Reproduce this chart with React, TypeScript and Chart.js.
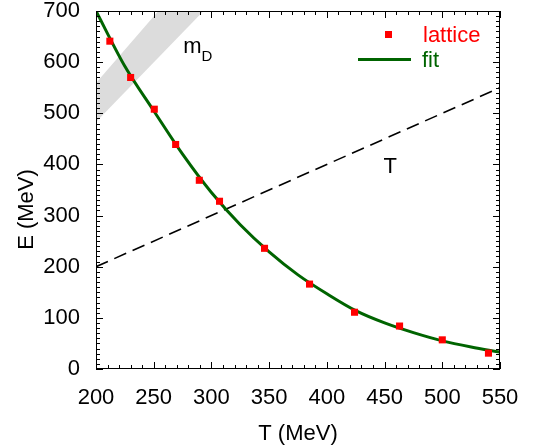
import React, { useEffect, useRef } from 'react';
import { Chart, registerables } from 'chart.js';

Chart.register(...registerables);

const FONT = '"Liberation Sans", Arial, Helvetica, sans-serif';

// lattice data (T in MeV, E in MeV)
const latticeT = [212, 230, 250.5, 269, 289.5, 307, 346, 385, 424, 463, 500, 540];
const latticeE = [641, 570, 508, 439, 369, 328, 236, 166, 111, 84, 57, 31];

// fit curve
const fitT = [200, 225, 250, 275, 300, 325, 350, 375, 400, 425, 450, 475, 500, 525, 550];
const fitE = [700, 592, 505, 420, 345, 282, 229, 184, 147, 114, 90, 71, 55, 43, 33];

// E = T reference line
const tLineT = [200, 550];
const tLineE = [200, 550];

// m_D band
const bandT = [200, 300];
const bandLow = [483, 716];
const bandHigh = [559, 820];

// tick labels
const xTickValues = [200, 250, 300, 350, 400, 450, 500, 550];
const yTickValues = [0, 100, 200, 300, 400, 500, 600, 700];

const labelMD = { t: 275.6, e: 617 };
const labelT = { t: 455, e: 383 };

const decorPlugin = {
  id: 'decor',
  afterDraw(chart: any) {
    const { ctx, chartArea: a, scales } = chart;
    const xs = scales.x;
    const ys = scales.y;
    ctx.save();
    // frame
    ctx.strokeStyle = '#000';
    ctx.lineWidth = 1;
    ctx.strokeRect(a.left + 0.5, a.top + 0.5, a.right - a.left - 1, a.bottom - a.top - 1);
    // inward ticks
    ctx.beginPath();
    for (let v = xs.min; v <= xs.max + 1e-6; v += 10) {
      const major = Math.abs(v % 50) < 1e-6;
      const len = major ? 7 : 4;
      const px = Math.round(xs.getPixelForValue(v)) + 0.5;
      ctx.moveTo(px, a.bottom);
      ctx.lineTo(px, a.bottom - len);
      ctx.moveTo(px, a.top);
      ctx.lineTo(px, a.top + len);
    }
    for (let v = ys.min; v <= ys.max + 1e-6; v += 10) {
      const major = Math.abs(v % 100) < 1e-6;
      const len = major ? 7 : 4;
      const py = Math.round(ys.getPixelForValue(v)) + 0.5;
      ctx.moveTo(a.left, py);
      ctx.lineTo(a.left + len, py);
      ctx.moveTo(a.right, py);
      ctx.lineTo(a.right - len, py);
    }
    ctx.stroke();

    // annotations
    ctx.fillStyle = '#000';
    ctx.textBaseline = 'alphabetic';
    ctx.textAlign = 'left';
    ctx.font = `22px ${FONT}`;
    const mx = xs.getPixelForValue(labelMD.t);
    const my = ys.getPixelForValue(labelMD.e);
    ctx.fillText('m', mx, my);
    const mw = ctx.measureText('m').width;
    ctx.font = `15px ${FONT}`;
    ctx.fillText('D', mx + mw, my + 8);
    ctx.font = `22px ${FONT}`;
    ctx.textAlign = 'center';
    ctx.fillText('T', xs.getPixelForValue(labelT.t), ys.getPixelForValue(labelT.e));

    // legend
    const ds = chart.data.datasets;
    ctx.textAlign = 'left';
    ctx.fillStyle = ds[0].backgroundColor;
    ctx.fillRect(385, 31, 7, 7);
    ctx.fillText(ds[0].label, 423, 42);
    ctx.strokeStyle = ds[1].borderColor;
    ctx.lineWidth = 3;
    ctx.beginPath();
    ctx.moveTo(358, 59.5);
    ctx.lineTo(411, 59.5);
    ctx.stroke();
    ctx.fillStyle = ds[1].borderColor;
    ctx.fillText(ds[1].label, 422, 67);

    // axis titles
    ctx.fillStyle = '#000';
    ctx.textAlign = 'center';
    ctx.fillText('T (MeV)', (a.left + a.right) / 2, 440);
    ctx.translate(32.5, 209.5);
    ctx.rotate(-Math.PI / 2);
    ctx.fillText('E (MeV)', 0, 0);
    ctx.restore();
  },
};

export default function App() {
  const canvasRef = useRef<HTMLCanvasElement | null>(null);

  useEffect(() => {
    document.body.style.margin = '0';
    const canvas = canvasRef.current;
    if (!canvas) return;
    const pts = (xsArr: number[], ysArr: number[]) => xsArr.map((x, i) => ({ x, y: ysArr[i] }));
    const chart = new Chart(canvas, {
      type: 'line',
      data: {
        datasets: [
          {
            label: 'lattice',
            data: pts(latticeT, latticeE),
            showLine: false,
            pointStyle: 'rect',
            pointRadius: 5,
            pointBorderWidth: 0,
            backgroundColor: 'rgb(255,0,0)',
            borderColor: 'rgb(255,0,0)',
            pointBackgroundColor: 'rgb(255,0,0)',
          },
          {
            label: 'fit',
            data: pts(fitT, fitE),
            borderColor: '#006400',
            borderWidth: 3,
            pointRadius: 0,
            cubicInterpolationMode: 'monotone',
            fill: false,
          },
          {
            label: 'T',
            data: pts(tLineT, tLineE),
            borderColor: '#000',
            borderWidth: 1.6,
            borderDash: [13, 7],
            pointRadius: 0,
            fill: false,
          },
          {
            label: 'mD low',
            data: pts(bandT, bandLow),
            borderColor: 'rgba(0,0,0,0)',
            borderWidth: 0,
            pointRadius: 0,
            fill: false,
          },
          {
            label: 'mD high',
            data: pts(bandT, bandHigh),
            borderColor: 'rgba(0,0,0,0)',
            borderWidth: 0,
            pointRadius: 0,
            fill: '-1',
            backgroundColor: 'rgb(220,220,220)',
          },
        ],
      },
      options: {
        responsive: false,
        animation: false,
        devicePixelRatio: 1,
        layout: { padding: { top: 11, right: 37, left: 0, bottom: 0 } },
        plugins: { legend: { display: false }, tooltip: { enabled: false } },
        scales: {
          x: {
            type: 'linear',
            min: 200,
            max: 550,
            afterBuildTicks: (s: any) => {
              s.ticks = xTickValues.map((v) => ({ value: v }));
            },
            afterFit: (s: any) => {
              s.height = 77;
              s.paddingLeft = 0;
              s.paddingRight = 0;
              s.paddingTop = 0;
              s.paddingBottom = 0;
            },
            ticks: {
              font: { family: FONT, size: 22 },
              color: '#000',
              padding: 16,
              maxRotation: 0,
              autoSkip: false,
            },
            grid: { display: false, drawTicks: false },
            border: { display: false },
          },
          y: {
            type: 'linear',
            min: 0,
            max: 700,
            afterBuildTicks: (s: any) => {
              s.ticks = yTickValues.map((v) => ({ value: v }));
            },
            afterFit: (s: any) => {
              s.width = 96;
              s.paddingLeft = 0;
              s.paddingRight = 0;
              s.paddingTop = 0;
              s.paddingBottom = 0;
            },
            ticks: {
              font: { family: FONT, size: 22 },
              color: '#000',
              padding: 16,
              autoSkip: false,
            },
            grid: { display: false, drawTicks: false },
            border: { display: false },
          },
        },
      },
      plugins: [decorPlugin],
    } as any);
    return () => chart.destroy();
  }, []);

  return (
    <div style={{ width: 537, height: 446 }}>
      <canvas ref={canvasRef} width={537} height={446} style={{ display: 'block' }} />
    </div>
  );
}
